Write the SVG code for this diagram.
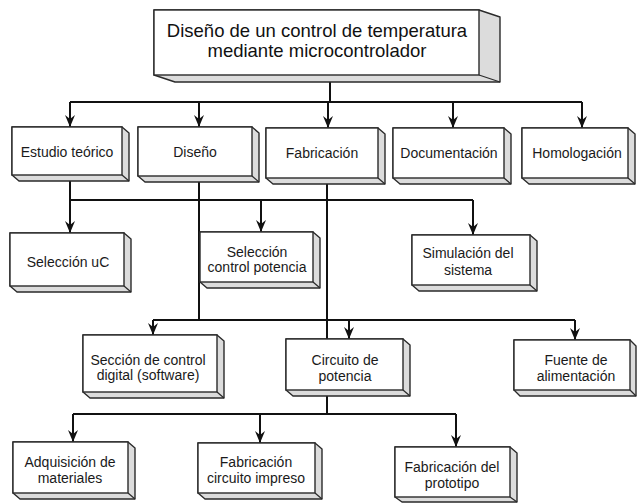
<svg xmlns="http://www.w3.org/2000/svg" width="637" height="503" viewBox="0 0 637 503">
<style>
.sh{fill:#dcdcdc;stroke:#2a2a2a;stroke-width:1.4;stroke-linejoin:round}
.fr{fill:#ffffff;stroke:#2a2a2a;stroke-width:1.4}
.ed{stroke:#2a2a2a;stroke-width:1.2}
.t{font-family:"Liberation Sans",Arial,sans-serif;font-size:14px;fill:#1a1a1a;text-anchor:middle}
.tt{font-family:"Liberation Sans",Arial,sans-serif;font-size:18.5px;fill:#111;text-anchor:middle}
.c{fill:none;stroke:#111;stroke-width:2}
.a{fill:none;stroke:#111;stroke-width:2;marker-end:url(#ah)}
</style>
<defs>
<marker id="ah" viewBox="0 0 12 10" refX="12" refY="5" markerWidth="12" markerHeight="10" markerUnits="userSpaceOnUse" orient="auto">
<path d="M0,0 L12,5 L0,10 L4,5 z" fill="#111"/>
</marker>
</defs>
<rect width="637" height="503" fill="#ffffff"/>
<g id="connectors">
<path class="c" d="M330,82 V102 M70,102 H582"/>
<path class="a" d="M70,102 V127"/>
<path class="a" d="M199,102 V127"/>
<path class="a" d="M328,102 V128"/>
<path class="a" d="M453,102 V128"/>
<path class="a" d="M582,102 V128"/>
<path class="c" d="M70,181 V200 H473"/>
<path class="a" d="M70,200 V233"/>
<path class="a" d="M261,200 V232"/>
<path class="a" d="M473,200 V235"/>
<path class="c" d="M199,182 V320 M153,320 H575"/>
<path class="a" d="M153,320 V335"/>
<path class="a" d="M349,320 V339"/>
<path class="a" d="M575,320 V340"/>
<path class="c" d="M327,184 V414 M73,414 H456"/>
<path class="a" d="M73,414 V442"/>
<path class="a" d="M260,414 V443"/>
<path class="a" d="M456,414 V447"/>
</g>
<g id="n0">
<polygon class="sh" points="154,10 479,10 500,17 500,82 175,82 154,75"/>
<rect class="fr" x="154" y="10" width="325" height="65"/>
<line class="ed" x1="479" y1="75" x2="500" y2="82"/>
<text class="tt" x="317" y="37">Diseño de un control de temperatura</text>
<text class="tt" x="317" y="57">mediante microcontrolador</text>
</g>
<g id="n1">
<polygon class="sh" points="12,127 122,127 129,133 129,181 19,181 12,175"/>
<rect class="fr" x="12" y="127" width="110" height="48"/>
<line class="ed" x1="122" y1="175" x2="129" y2="181"/>
<text class="t" x="67" y="157">Estudio teórico</text>
</g>
<g id="n2">
<polygon class="sh" points="138,127 252,127 259,133 259,182 145,182 138,176"/>
<rect class="fr" x="138" y="127" width="114" height="49"/>
<line class="ed" x1="252" y1="176" x2="259" y2="182"/>
<text class="t" x="195" y="157">Diseño</text>
</g>
<g id="n3">
<polygon class="sh" points="266,128 378,128 385,134 385,184 273,184 266,178"/>
<rect class="fr" x="266" y="128" width="112" height="50"/>
<line class="ed" x1="378" y1="178" x2="385" y2="184"/>
<text class="t" x="322" y="158">Fabricación</text>
</g>
<g id="n4">
<polygon class="sh" points="393,128 504,128 511,134 511,184 400,184 393,178"/>
<rect class="fr" x="393" y="128" width="111" height="50"/>
<line class="ed" x1="504" y1="178" x2="511" y2="184"/>
<text class="t" x="449" y="158">Documentación</text>
</g>
<g id="n5">
<polygon class="sh" points="522,128 628,128 635,134 635,184 529,184 522,178"/>
<rect class="fr" x="522" y="128" width="106" height="50"/>
<line class="ed" x1="628" y1="178" x2="635" y2="184"/>
<text class="t" x="577" y="158">Homologación</text>
</g>
<g id="n6">
<polygon class="sh" points="10,233 124,233 131,239 131,292 17,292 10,286"/>
<rect class="fr" x="10" y="233" width="114" height="53"/>
<line class="ed" x1="124" y1="286" x2="131" y2="292"/>
<text class="t" x="68" y="267">Selección uC</text>
</g>
<g id="n7">
<polygon class="sh" points="200,232 313,232 320,238 320,288 207,288 200,282"/>
<rect class="fr" x="200" y="232" width="113" height="50"/>
<line class="ed" x1="313" y1="282" x2="320" y2="288"/>
<text class="t" x="257" y="257">Selección</text>
<text class="t" x="257" y="272">control potencia</text>
</g>
<g id="n8">
<polygon class="sh" points="412,235 530,235 537,241 537,291 419,291 412,285"/>
<rect class="fr" x="412" y="235" width="118" height="50"/>
<line class="ed" x1="530" y1="285" x2="537" y2="291"/>
<text class="t" x="468" y="258">Simulación del</text>
<text class="t" x="468" y="275">sistema</text>
</g>
<g id="n9">
<polygon class="sh" points="83,335 217,335 224,341 224,398 90,398 83,392"/>
<rect class="fr" x="83" y="335" width="134" height="57"/>
<line class="ed" x1="217" y1="392" x2="224" y2="398"/>
<text class="t" x="148" y="365">Sección de control</text>
<text class="t" x="148" y="380">digital (software)</text>
</g>
<g id="n10">
<polygon class="sh" points="286,339 403,339 410,345 410,396 293,396 286,390"/>
<rect class="fr" x="286" y="339" width="117" height="51"/>
<line class="ed" x1="403" y1="390" x2="410" y2="396"/>
<text class="t" x="345" y="365">Circuito de</text>
<text class="t" x="345" y="381">potencia</text>
</g>
<g id="n11">
<polygon class="sh" points="514,340 630,340 636,346 636,396 520,396 514,390"/>
<rect class="fr" x="514" y="340" width="116" height="50"/>
<line class="ed" x1="630" y1="390" x2="636" y2="396"/>
<text class="t" x="576" y="365">Fuente de</text>
<text class="t" x="576" y="381">alimentación</text>
</g>
<g id="n12">
<polygon class="sh" points="13,442 128,442 135,448 135,499 20,499 13,493"/>
<rect class="fr" x="13" y="442" width="115" height="51"/>
<line class="ed" x1="128" y1="493" x2="135" y2="499"/>
<text class="t" x="70" y="467">Adquisición de</text>
<text class="t" x="70" y="483">materiales</text>
</g>
<g id="n13">
<polygon class="sh" points="198,443 315,443 322,449 322,499 205,499 198,493"/>
<rect class="fr" x="198" y="443" width="117" height="50"/>
<line class="ed" x1="315" y1="493" x2="322" y2="499"/>
<text class="t" x="256" y="467">Fabricación</text>
<text class="t" x="256" y="483">circuito impreso</text>
</g>
<g id="n14">
<polygon class="sh" points="395,447 510,447 517,453 517,502 402,502 395,497"/>
<rect class="fr" x="395" y="447" width="115" height="50"/>
<line class="ed" x1="510" y1="497" x2="517" y2="502"/>
<text class="t" x="452" y="472">Fabricación del</text>
<text class="t" x="452" y="488">prototipo</text>
</g>
</svg>
